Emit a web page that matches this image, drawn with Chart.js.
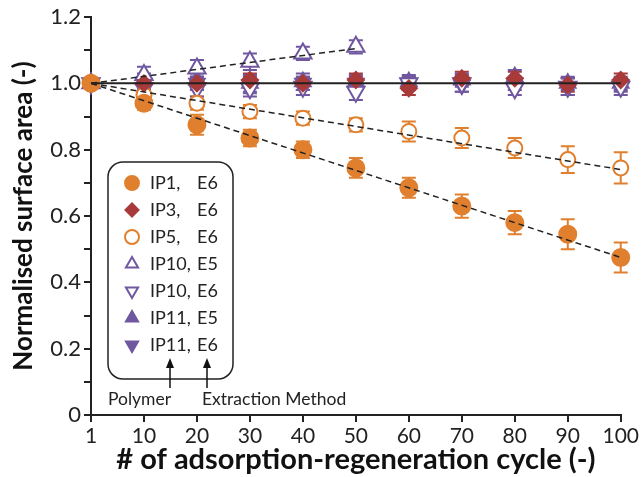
<!DOCTYPE html>
<html>
<head>
<meta charset="utf-8">
<script src="https://cdn.jsdelivr.net/npm/chart.js@4"></script>
<style>
    html, body { margin: 0; padding: 0; background: #fff; }
    #wrap { width: 641px; height: 477px; }
</style>
</head>
<body>
<div id="wrap"><canvas id="chart" width="641" height="477"></canvas></div>
<script>
const ORANGE = "#e0802f";
const RED = "#a83a3a";
const PURPLE = "#7058a0";

const cycles = ["1", "10", "20", "30", "40", "50", "60", "70", "80", "90", "100"];

const ip1E6 = [1.0, 0.94, 0.875, 0.835, 0.80, 0.745, 0.685, 0.63, 0.58, 0.545, 0.475];
const ip1E6Err = [0, 0.02, 0.03, 0.025, 0.025, 0.03, 0.03, 0.035, 0.035, 0.045, 0.045];

const ip3E6 = [1.0, 1.0, 1.0, 1.01, 1.0, 1.01, 0.985, 1.015, 1.015, 0.995, 1.01];
const ip3E6Err = [0, 0.02, 0.02, 0.02, 0.02, 0.02, 0.02, 0.02, 0.02, 0.02, 0.02];

const ip5E6 = [1.0, 0.965, 0.94, 0.915, 0.895, 0.875, 0.855, 0.835, 0.805, 0.77, 0.745];
const ip5E6Err = [0, 0.02, 0.02, 0.02, 0.02, 0.02, 0.03, 0.03, 0.03, 0.04, 0.047];

const ip10E5 = [1.0, 1.025, 1.045, 1.065, 1.09, 1.11, null, null, null, null, null];
const ip10E5Err = [0, 0.025, 0.025, 0.025, 0.02, 0.02, null, null, null, null, null];

const ip10E6 = [1.0, 0.985, 0.985, 0.985, 0.99, 0.975, 1.0, 1.0, 0.985, 0.99, 0.99];
const ip10E6Err = [0, 0.025, 0.025, 0.025, 0.025, 0.025, 0.02, 0.025, 0.02, 0.025, 0.025];

const ip11E5 = [1.0, 1.01, 1.01, 1.0, 1.005, 1.005, 1.005, 1.01, 1.02, 1.0, 1.0];
const ip11E5Err = [0, 0.02, 0.02, 0.025, 0.025, 0.02, 0.02, 0.02, 0.02, 0.02, 0.02];

const ip11E6 = [1.0, 1.0, 1.0, 0.995, 1.0, 1.0, 1.0, 0.995, 1.0, 0.99, 0.995];
const ip11E6Err = [0, 0.02, 0.02, 0.025, 0.02, 0.02, 0.02, 0.02, 0.02, 0.025, 0.02];

// reference and trend lines (start / end values only)
const baseline = [1, 1, 1, 1, 1, 1, 1, 1, 1, 1, 1];
const trendIp1 = [1.0, null, null, null, null, null, null, null, null, null, 0.475];
const trendIp5 = [1.0, null, null, null, null, null, null, null, null, null, 0.74];
const trendIp10E5 = [1.0, null, null, null, null, 1.105, null, null, null, null, null];

const legendRows = [
    { polymer: "IP1,", method: "E6", style: "circle", color: ORANGE, filled: true, rotation: 0 },
    { polymer: "IP3,", method: "E6", style: "rectRot", color: RED, filled: true, rotation: 0 },
    { polymer: "IP5,", method: "E6", style: "circle", color: ORANGE, filled: false, rotation: 0 },
    { polymer: "IP10,", method: "E5", style: "triangle", color: PURPLE, filled: false, rotation: 0 },
    { polymer: "IP10,", method: "E6", style: "triangle", color: PURPLE, filled: false, rotation: 180 },
    { polymer: "IP11,", method: "E5", style: "triangle", color: PURPLE, filled: true, rotation: 0 },
    { polymer: "IP11,", method: "E6", style: "triangle", color: PURPLE, filled: true, rotation: 180 }
];

function markerDataset(label, data, errors, style, color, filled, rotation, radius) {

    return {
        label,
        data,
        errors,
        showLine: false,
        pointStyle: style,
        pointRotation: rotation,
        pointRadius: radius,
        pointHoverRadius: radius,
        pointBorderWidth: 2,
        pointBorderColor: color,
        pointBackgroundColor: filled ? color : "#fff",
        borderColor: color,
        backgroundColor: filled ? color : "#fff"
    };
}

function lineDataset(data, dashed, width) {

    return {
        data,
        spanGaps: true,
        pointRadius: 0,
        pointHoverRadius: 0,
        borderColor: "#222",
        borderWidth: width,
        borderDash: dashed ? [6, 4] : [],
        fill: false
    };
}

const errorBarPlugin = {
    id: "errorBars",
    beforeDatasetsDraw(chart) {

        const ctx = chart.ctx;
        const yScale = chart.scales.y;

        chart.data.datasets.forEach((dataset, index) => {

            if (!dataset.errors) {
                return;
            }

            const meta = chart.getDatasetMeta(index);

            ctx.save();
            ctx.strokeStyle = dataset.borderColor;
            ctx.lineWidth = 2;

            meta.data.forEach((point, j) => {

                const value = dataset.data[j];
                const err = dataset.errors[j];

                if (value === null || !err) {
                    return;
                }

                const top = yScale.getPixelForValue(value + err);
                const bottom = yScale.getPixelForValue(value - err);

                ctx.beginPath();
                ctx.moveTo(point.x, top);
                ctx.lineTo(point.x, bottom);
                ctx.moveTo(point.x - 7, top);
                ctx.lineTo(point.x + 7, top);
                ctx.moveTo(point.x - 7, bottom);
                ctx.lineTo(point.x + 7, bottom);
                ctx.stroke();
            });

            ctx.restore();
        });
    }
};

function drawArrow(ctx, x, yFrom, yTo) {

    ctx.beginPath();
    ctx.moveTo(x, yFrom);
    ctx.lineTo(x, yTo + 4);
    ctx.stroke();

    ctx.beginPath();
    ctx.moveTo(x, yTo);
    ctx.lineTo(x - 4, yTo + 10);
    ctx.lineTo(x + 4, yTo + 10);
    ctx.closePath();
    ctx.fill();
}

const legendBoxPlugin = {
    id: "legendBox",
    afterDraw(chart) {

        const ctx = chart.ctx;

        ctx.save();
        ctx.strokeStyle = "#222";
        ctx.fillStyle = "#fff";
        ctx.lineWidth = 1.5;
        ctx.beginPath();
        ctx.roundRect(108, 162, 125, 217, 15);
        ctx.fill();
        ctx.stroke();

        ctx.font = "18px Lato";
        ctx.textBaseline = "middle";

        legendRows.forEach((row, i) => {

            const y = 183 + i * 27;

            ctx.fillStyle = row.filled ? row.color : "#fff";
            ctx.strokeStyle = row.color;
            ctx.lineWidth = 2;
            Chart.helpers.drawPoint(ctx, {
                pointStyle: row.style,
                rotation: row.rotation,
                radius: row.style === "rectRot" ? 6.5 : 7,
                borderWidth: 2
            }, 132, y);

            ctx.fillStyle = "#222";
            ctx.fillText(row.polymer, 150, y);
            ctx.fillText(row.method, 197, y);
        });

        ctx.strokeStyle = "#111";
        ctx.fillStyle = "#111";
        ctx.lineWidth = 1.5;
        drawArrow(ctx, 170, 388, 358);
        drawArrow(ctx, 207, 388, 358);

        ctx.fillStyle = "#222";
        ctx.font = "17.5px Lato";
        ctx.fillText("Polymer", 108, 399);
        ctx.fillText("Extraction Method", 202, 399);
        ctx.restore();
    }
};

new Chart(document.getElementById("chart").getContext("2d"), {
    type: "line",
    data: {
        labels: cycles,
        datasets: [
            lineDataset(baseline, false, 2),
            lineDataset(trendIp1, true, 1.5),
            lineDataset(trendIp5, true, 1.5),
            lineDataset(trendIp10E5, true, 1.5),
            markerDataset("IP1, E6", ip1E6, ip1E6Err, "circle", ORANGE, true, 0, 8.5),
            markerDataset("IP3, E6", ip3E6, ip3E6Err, "rectRot", RED, true, 0, 8),
            markerDataset("IP5, E6", ip5E6, ip5E6Err, "circle", ORANGE, false, 0, 7.5),
            markerDataset("IP10, E5", ip10E5, ip10E5Err, "triangle", PURPLE, false, 0, 10),
            markerDataset("IP10, E6", ip10E6, ip10E6Err, "triangle", PURPLE, false, 180, 10),
            markerDataset("IP11, E5", ip11E5, ip11E5Err, "triangle", PURPLE, true, 0, 9),
            markerDataset("IP11, E6", ip11E6, ip11E6Err, "triangle", PURPLE, true, 180, 9)
        ]
    },
    options: {
        responsive: false,
        animation: false,
        layout: {
            padding: { top: 17, right: 20, left: 0, bottom: 0 }
        },
        plugins: {
            legend: { display: false },
            tooltip: { enabled: false }
        },
        scales: {
            x: {
                type: "category",
                offset: false,
                afterFit(scale) {
                    scale.height = 62;
                },
                border: { color: "#222", width: 2 },
                grid: {
                    drawOnChartArea: false,
                    drawTicks: true,
                    tickLength: 7,
                    color: "#222",
                    lineWidth: 2
                },
                ticks: {
                    color: "#222",
                    font: { family: "Lato", size: 21 },
                    padding: 2,
                    maxRotation: 0,
                    autoSkip: false
                },
                title: {
                    display: true,
                    text: "# of adsorption-regeneration cycle (-)",
                    color: "#111",
                    font: { family: "Lato", size: 29, weight: "bold" },
                    padding: { top: -6, bottom: 0 }
                }
            },
            y: {
                min: 0,
                max: 1.2,
                afterFit(scale) {
                    scale.width = 91;
                },
                border: { color: "#222", width: 2 },
                grid: {
                    drawOnChartArea: false,
                    drawTicks: true,
                    tickLength: 7,
                    color: "#222",
                    lineWidth: 2
                },
                ticks: {
                    stepSize: 0.1,
                    color: "#222",
                    font: { family: "Lato", size: 22 },
                    padding: 3,
                    callback(value, index) {
                        if (index % 2 !== 0) {
                            return "";
                        }
                        return Math.abs(value) < 1e-9 ? "0" : value.toFixed(1);
                    }
                },
                title: {
                    display: true,
                    text: "Normalised surface area (-)",
                    color: "#111",
                    font: { family: "Lato", size: 26, weight: "bold" },
                    padding: { top: 8, bottom: 0 }
                }
            }
        }
    },
    plugins: [errorBarPlugin, legendBoxPlugin]
});
</script>
</body>
</html>
